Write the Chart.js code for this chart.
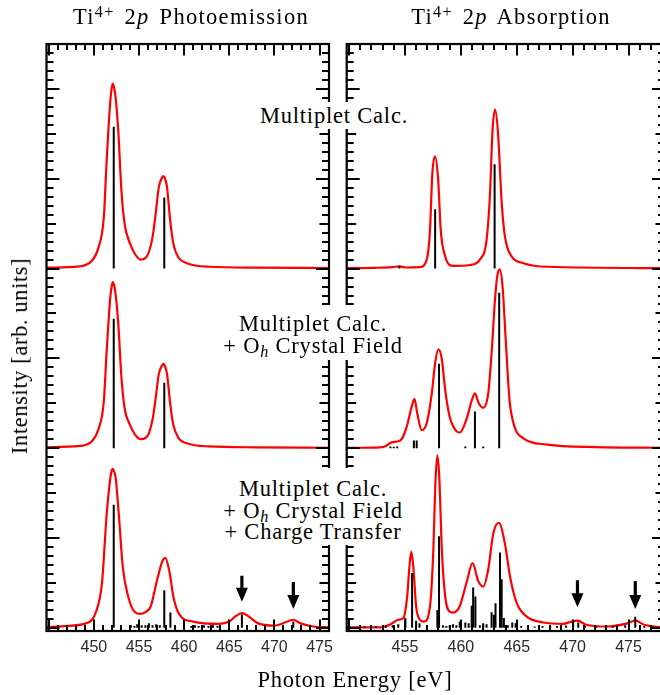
<!DOCTYPE html>
<html>
<head>
<meta charset="utf-8">
<script src="https://cdn.jsdelivr.net/npm/chart.js@4.4.0/dist/chart.umd.min.js"></script>
<style>
  body { margin:0; width:660px; height:695px; overflow:hidden; background:#fff; position:relative;
         font-family:"Liberation Serif", serif; color:#000; }
  canvas { position:absolute; top:0; }
  #pes { left:0; }
  #xas { left:340px; }
  .txt { position:absolute; font-size:22.5px; line-height:22px; white-space:nowrap; letter-spacing:0.8px; transform:translateX(-50%); }
  .title { letter-spacing:1.3px; word-spacing:3px; }
  .box { position:absolute; background:#fff; text-align:center; font-size:22.5px; line-height:21.5px;
         white-space:nowrap; letter-spacing:0.8px; transform:translateX(-50%); padding-left:4px; padding-right:4px; }
  sup { font-size:0.72em; vertical-align:0.45em; line-height:0; }
  sub { font-size:0.72em; vertical-align:-0.25em; line-height:0; }
  #ytitle { position:absolute; left:20px; top:356px; font-size:22.5px; white-space:nowrap; letter-spacing:0.6px;
            transform:translate(-50%,-50%) rotate(-90deg); }
</style>
</head>
<body>
<canvas id="pes" width="340" height="695"></canvas>
<canvas id="xas" width="340" height="695"></canvas>

<div class="txt title" style="left:191px; top:6px">Ti<sup>4+</sup> 2<i>p</i> Photoemission</div>
<div class="txt title" style="left:511px; top:6px">Ti<sup>4+</sup> 2<i>p</i> Absorption</div>

<div class="box" style="left:334px; top:102px; padding-top:3px; padding-bottom:2px">Multiplet Calc.</div>
<div class="box" style="left:313px; top:305px; padding-top:8px; padding-bottom:4px">Multiplet Calc.<br>+ O<sub><i>h</i></sub> Crystal Field</div>
<div class="box" style="left:313px; top:468px; padding-top:10px; padding-bottom:2px">Multiplet Calc.<br>+ O<sub><i>h</i></sub> Crystal Field<br>+ Charge Transfer</div>

<div class="txt" style="left:355px; top:669px">Photon Energy [eV]</div>
<div id="ytitle">Intensity [arb. units]</div>

<script>
// vertical offsets of the three stacked spectra (top, middle, bottom)
const offsets = [4, 2, 0];

// ---- Ti4+ 2p photoemission : [energy eV, intensity] ----
const pesMultiplet = [
  [444.75,0.01],[448.4,0.025],[449.8,0.09],[450.5,0.23],[451.1,0.57],[451.4,1.17],[451.8,1.84],
  [451.95,1.99],[452.09,2.06],[452.25,2.01],[452.4,1.91],[452.7,1.54],[453.05,0.87],[453.4,0.50],
  [454.0,0.28],[454.5,0.17],[455.2,0.10],[455.9,0.14],[456.5,0.35],[456.8,0.57],[457.2,0.91],
  [457.55,1.01],[457.7,1.03],[457.85,1.01],[458.1,0.91],[458.45,0.54],[458.8,0.28],[459.4,0.12],
  [460.3,0.06],[462.8,0.02],[468,0.01],[476.05,0.005]
];
const pesCrystal = [
  [444.75,0.01],[448.4,0.025],[449.8,0.08],[450.5,0.21],[451.1,0.52],[451.4,1.05],[451.8,1.66],
  [451.95,1.79],[452.09,1.85],[452.25,1.81],[452.4,1.72],[452.7,1.39],[453.05,0.79],[453.4,0.45],
  [454.0,0.26],[454.5,0.16],[455.2,0.10],[455.9,0.13],[456.5,0.32],[456.8,0.52],[457.2,0.83],
  [457.55,0.92],[457.7,0.94],[457.85,0.92],[458.1,0.83],[458.45,0.50],[458.8,0.26],[459.4,0.11],
  [460.3,0.055],[462.8,0.02],[468,0.01],[476.05,0.005]
];
const pesCharge = [
  [444.75,0.005],[446.7,0.02],[449.1,0.05],[450.2,0.17],[450.9,0.5],[451.4,1.24],[451.8,1.65],
  [451.95,1.74],[452.09,1.77],[452.25,1.74],[452.4,1.68],[452.78,1.24],[453.2,0.68],[453.8,0.35],
  [454.5,0.18],[455.2,0.155],[455.8,0.18],[456.3,0.24],[457.0,0.53],[457.58,0.74],[457.92,0.78],
  [458.4,0.61],[458.8,0.35],[459.5,0.145],[461.0,0.07],[463.9,0.045],[465.0,0.07],[465.7,0.13],
  [466.4,0.165],[467.1,0.13],[468.2,0.05],[470.0,0.025],[471.45,0.07],[472.1,0.09],[472.9,0.05],
  [474.3,0.015],[476.05,0.005]
];
const pesMultipletSticks = [[452.2,1.58],[457.8,0.79]];
const pesCrystalSticks = [[452.2,1.44],[457.8,0.73]];
const pesChargeSticks = [
  [452.2,1.37],[454.1,0.03],[454.5,0.02],[454.8,0.04],[455.3,0.03],[455.7,0.03],[456.1,0.05],
  [456.5,0.03],[456.9,0.04],[457.3,0.03],[457.8,0.42],[458.48,0.17],[459.0,0.02],[460.8,0.02],
  [461.2,0.03],[461.6,0.02],[462.2,0.03],[462.7,0.02],[463.2,0.03],[463.7,0.02],[466.4,0.15],[472.1,0.07]
];
const pesArrows = [[466.4,0.58,0.29],[472.1,0.51,0.21]];   // [energy, tail, tip]
const pesTickLabels = [450, 455, 460, 465, 470, 475];

// ---- Ti4+ 2p absorption ----
const xasMultiplet = [
  [449.8,0.005],[452.1,0.008],[453.9,0.015],[454.5,0.025],[455.1,0.012],[456.35,0.017],[456.95,0.10],
  [457.24,0.43],[457.45,1.06],[457.7,1.25],[457.97,0.99],[458.2,0.43],[458.6,0.135],[459.3,0.03],
  [460.8,0.04],[461.7,0.10],[462.3,0.32],[462.6,0.81],[462.84,1.55],[463.07,1.77],[463.34,1.48],
  [463.65,0.74],[463.94,0.36],[464.54,0.135],[465.6,0.06],[467.7,0.02],[478.3,0.005]
];
const xasCrystal = [
  [449.8,0.005],[452.8,0.01],[453.3,0.025],[453.8,0.065],[454.3,0.075],[454.7,0.10],[455.16,0.24],
  [455.6,0.46],[455.85,0.55],[456.1,0.39],[456.5,0.20],[456.95,0.28],[457.4,0.61],[457.7,0.95],
  [458.0,1.10],[458.3,0.99],[458.6,0.65],[459.0,0.35],[459.6,0.19],[459.9,0.175],[460.5,0.32],
  [461.0,0.54],[461.26,0.61],[461.6,0.50],[462.0,0.45],[462.45,0.61],[462.75,1.06],[463.05,1.65],
  [463.25,1.91],[463.47,1.99],[463.73,1.80],[464.03,1.17],[464.35,0.54],[464.8,0.24],[465.6,0.11],
  [467.7,0.04],[472.1,0.012],[478.3,0.005]
];
const xasCharge = [
  [449.8,0.005],[452.8,0.005],[453.8,0.045],[454.4,0.09],[454.86,0.11],[455.2,0.35],[455.4,0.68],
  [455.57,0.85],[455.75,0.68],[456.0,0.24],[456.35,0.09],[456.7,0.07],[457.24,0.24],[457.54,0.87],
  [457.72,1.61],[457.9,1.92],[458.07,1.68],[458.3,0.87],[458.6,0.35],[459.0,0.18],[459.3,0.17],
  [459.9,0.24],[460.5,0.50],[461.05,0.72],[461.56,0.52],[462.0,0.46],[462.45,0.65],[462.9,1.05],
  [463.4,1.17],[463.94,0.94],[464.4,0.57],[465.0,0.275],[465.9,0.125],[467.36,0.06],[469.15,0.045],
  [469.9,0.07],[470.43,0.08],[471.2,0.035],[473.0,0.015],[474.9,0.05],[475.6,0.08],[476.4,0.035],
  [477.6,0.01],[478.3,0.005]
];
const xasMultipletSticks = [[454.5,0.03],[457.7,0.66],[463.02,1.16]];
const xasCrystalSticks = [
  [453.7,0.02],[454.0,0.015],[454.3,0.02],[455.8,0.085],[456.05,0.085],[458.05,0.94],
  [460.4,0.02],[461.26,0.41],[462.0,0.02],[463.43,1.73]
];
const xasChargeSticks = [
  [450.0,0.02],[451.4,0.015],[452.4,0.02],[453.3,0.025],[453.9,0.03],[454.4,0.04],[455.04,0.11],
  [455.64,0.61],[456.0,0.08],[456.3,0.05],[457.9,0.2],[458.05,1.02],[458.4,0.03],[458.7,0.02],
  [459.0,0.03],[459.3,0.04],[459.6,0.03],[459.9,0.07],[460.4,0.06],[460.7,0.05],[460.97,0.245],
  [461.1,0.45],[461.3,0.35],[461.7,0.03],[462.0,0.05],[462.3,0.04],[462.75,0.175],[462.96,0.145],
  [463.1,0.275],[463.5,0.84],[463.65,0.54],[463.85,0.11],[464.2,0.03],[464.6,0.06],[464.9,0.05],
  [465.4,0.02],[466.0,0.02],[466.6,0.015],[467.3,0.02],[468.0,0.015],[468.6,0.02],[469.4,0.025],
  [470.04,0.09],[470.5,0.06],[471.1,0.02],[472.1,0.015],[473.6,0.02],[474.7,0.03],[475.6,0.125],
  [476.4,0.02],[477.3,0.015]
];
const xasArrows = [[470.43,0.53,0.23],[475.6,0.52,0.21]];
const xasTickLabels = [455, 460, 465, 470, 475];

// inward ticks, frame and arrows
const frameTicks = {
  id: 'frameTicks',
  afterDraw(chart, args, opts) {
    const { ctx, chartArea: a, scales: { x, y } } = chart;
    const seg = (x1, y1, x2, y2) => { ctx.beginPath(); ctx.moveTo(x1, y1); ctx.lineTo(x2, y2); ctx.stroke(); };
    ctx.save();
    ctx.strokeStyle = '#000';
    ctx.lineWidth = 2;
    for (let e = Math.ceil(x.min); e <= x.max; e++) {
      const px = Math.round(x.getPixelForValue(e));
      const len = e % 5 === 0 ? 11.5 : 6;
      seg(px, a.top, px, a.top + len);
      seg(px, a.bottom, px, a.bottom - len);
    }
    for (let i = 0; i <= 65; i++) {
      const py = Math.round(y.getPixelForValue(i / 10));
      const len = i % 10 === 0 ? 13 : (i % 5 === 0 ? 9.5 : 7);
      seg(a.left, py, a.left + len, py);
      seg(a.right, py, a.right - len, py);
    }
    ctx.lineWidth = 2.2;
    ctx.strokeRect(a.left, a.top, a.right - a.left, a.bottom - a.top);

    ctx.fillStyle = '#000';
    (opts.arrows || []).forEach(([e, tail, tip]) => {
      const px = x.getPixelForValue(e);
      const y0 = y.getPixelForValue(tail), y1 = y.getPixelForValue(tip);
      ctx.fillRect(px - 1.6, y0, 3.2, y1 - y0 - 10);
      ctx.beginPath();
      ctx.moveTo(px - 6, y1 - 14);
      ctx.lineTo(px + 6, y1 - 14);
      ctx.lineTo(px, y1);
      ctx.closePath();
      ctx.fill();
    });
    ctx.restore();
  }
};

function spectrumSets(curves, sticks) {
  const sets = [];
  curves.forEach((curve, k) => {
    sets.push({
      type: 'line',
      data: curve.map(([e, v]) => ({ x: e, y: v + offsets[k] })),
      borderColor: '#ff0000',
      borderWidth: 2.2,
      pointRadius: 0,
      cubicInterpolationMode: 'monotone',
      fill: false,
      order: 2
    });
  });
  sticks.forEach((list, k) => {
    sets.push({
      type: 'bar',
      data: list.map(([e, h]) => ({ x: e, y: [offsets[k], offsets[k] + h] })),
      backgroundColor: '#000',
      barThickness: 2,
      inflateAmount: 0,
      grouped: false,
      order: 1
    });
  });
  return sets;
}

function makeChart(id, curves, sticks, xmin, xmax, labels, padding, arrows) {
  new Chart(document.getElementById(id), {
    type: 'line',
    data: { datasets: spectrumSets(curves, sticks) },
    plugins: [frameTicks],
    options: {
      responsive: false,
      animation: false,
      events: [],
      layout: { padding: padding },
      scales: {
        x: {
          type: 'linear',
          min: xmin,
          max: xmax,
          offset: false,
          afterBuildTicks: s => { s.ticks = labels.map(v => ({ value: v })); },
          afterFit: s => { s.height = 64; },
          grid: { display: false, drawTicks: false },
          border: { display: false },
          ticks: {
            font: { family: 'Liberation Sans', size: 16 },
            color: '#2a2a2a',
            padding: 7,
            maxRotation: 0,
            autoSkip: false
          }
        },
        y: { display: false, min: -0.035, max: 6.5 }
      },
      plugins: {
        legend: { display: false },
        tooltip: { enabled: false },
        frameTicks: { arrows: arrows }
      }
    }
  });
}

makeChart('pes', [pesMultiplet, pesCrystal, pesCharge],
  [pesMultipletSticks, pesCrystalSticks, pesChargeSticks],
  444.75, 476.05, pesTickLabels, { left: 46.5, right: 4.3, top: 44, bottom: 0 }, pesArrows);

makeChart('xas', [xasMultiplet, xasCrystal, xasCharge],
  [xasMultipletSticks, xasCrystalSticks, xasChargeSticks],
  449.79, 478.26, xasTickLabels, { left: 6.7, right: 15, top: 44, bottom: 0 }, xasArrows);
</script>
</body>
</html>
